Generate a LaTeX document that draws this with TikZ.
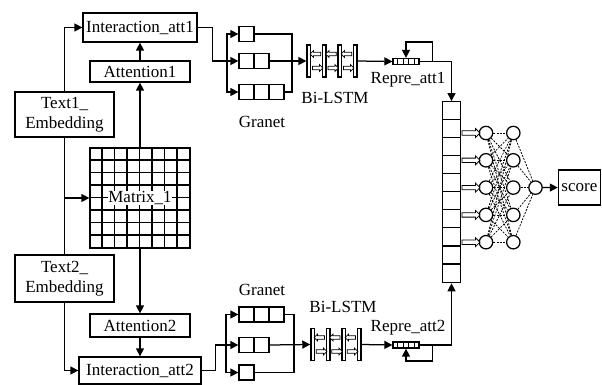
\documentclass[tikz,border=0pt]{standalone}
\usepackage{fontspec}
\setmainfont{Liberation Serif}
\usetikzlibrary{positioning,arrows.meta,calc,shapes.arrows}
\tikzset{
  blk/.style={draw,inner sep=1pt,align=center},
  cell/.style={draw,minimum size=15pt,inner sep=0pt},
  bar/.style={draw,fill=white,minimum width=3.6pt,minimum height=32pt,inner sep=0pt},
  vec/.style={draw,minimum width=26pt,minimum height=6pt,inner sep=0pt},
  neu/.style={circle,draw,minimum size=13.4pt,inner sep=0pt},
  arr/.style={-{Triangle[length=8pt,width=8pt]}},
  hol/.style={single arrow,draw,fill=white,line width=0.8pt,inner xsep=0pt,anchor=tail},
  lnk/.style={line width=0.75pt,dash pattern=on 2pt off 1.3pt},
}

\begin{document}
\begin{tikzpicture}[x=1pt,y=-1pt,line width=1.25pt,font=\fontsize{17}{20}\selectfont]
  \useasboundingbox (0,0) rectangle (602,385);
  \node[blk,minimum width=114pt,minimum height=29pt] (ia1) at (140,27.5) {Interaction\_att1};
  \node[blk,minimum width=100pt,minimum height=21pt] (at1) at (140,71.5) {Attention1};
  \node[blk,minimum width=99pt,minimum height=45pt] (te1) at (64.5,114.5) {Text1\_\\Embedding};
  \node[draw,minimum size=100pt,inner sep=0pt] (mat) at (140,198) {};
  \foreach \k in {1,...,7} {
    \draw (mat.north west) ++(12.5*\k,0) -- ++(0,100);
    \draw (mat.north west) ++(0,12.5*\k) -- ++(100,0);
  }
  \node[fill=white,inner sep=0.5pt] (matlab) at (mat) {Matrix\_1};
  \node[blk,minimum width=99pt,minimum height=47pt] (te2) at (64.5,278.5) {Text2\_\\Embedding};
  \node[blk,minimum width=100pt,minimum height=23pt] (at2) at (140,325.5) {Attention2};
  \node[blk,minimum width=122pt,minimum height=27pt] (ia2) at (140,370.5) {Interaction\_att2};

  \draw[arr] (te1.north) |- (ia1.west);
  \draw (te1.south) -- (te2.north);
  \draw[arr] (te1.south) |- (mat.west);
  \draw[arr] (te2.south) |- (ia2.west);
  \draw[arr] (mat.north) -- (at1.south);
  \draw[arr] (at1.north) -- (ia1.south);
  \draw[arr] (mat.south) -- (at2.north);
  \draw[arr] (at2.south) -- (ia2.north);

  % Granet
  \foreach \n/\y in {1/34,2/61,3/92}
    \foreach \k in {1,...,\n}
      \node[cell] (ga\n\k) at (231.5+15*\k,\y) {};
  \foreach \n/\y in {3/314.5,2/345,1/372.5}
    \foreach \k in {1,...,\n}
      \node[cell] (gb\n\k) at (231.5+15*\k,\y) {};
  \coordinate (sa) at (227,61);
  \coordinate (ea) at (292,61);
  \coordinate (sb) at (226,345);
  \coordinate (eb) at (294,345);
  \draw[arr] (ia1.east) -- ++(15,0) |- (ga21.west);
  \draw[arr] (sa) |- (ga11.west);
  \draw[arr] (sa) |- (ga31.west);
  \draw (ga11.east) -| (ea);
  \draw (ga33.east) -| (ea);
  \draw[arr] (ia2.east) -- ++(14,0) |- (gb21.west);
  \draw[arr] (sb) |- (gb31.west);
  \draw[arr] (sb) |- (gb11.west);
  \draw (gb33.east) -| (eb);
  \draw (gb11.east) -| (eb);
  \node at (262,122) {Granet};
  \node at (262,290) {Granet};

  % Bi-LSTM
  \foreach \i in {1,...,4} {
    \node[bar] (la\i) at (308.8+15.5*\i-15.5,61) {};
    \node[bar] (lb\i) at (312.7+15.5*\i-15.5,344.5) {};
  }
  \tikzset{sml/.style={hol,minimum height=10.5pt,inner ysep=1.4pt,single arrow head extend=1.6pt}}
  \foreach \i/\j in {1/2,2/3,3/4} {
    \node[sml,shape border rotate=180] at ($(la\j.west)+(-0.8,-7)$) {};
    \node[sml] at ($(la\i.east)+(0.8,7)$) {};
    \node[sml,shape border rotate=180] at ($(lb\j.west)+(-0.8,-7)$) {};
    \node[sml] at ($(lb\i.east)+(0.8,7)$) {};
  }
  \draw[arr] (ga22.east) -- (la1.west);
  \draw[arr] (gb22.east) -- (lb1.west);
  \node at (335,98) {Bi-LSTM};
  \node at (343,306.5) {Bi-LSTM};

  % representations
  \node[vec] (rp1) at (406,61.5) {};
  \node[vec] (rp2) at (406,345) {};
  \foreach \k in {1,...,4} {
    \draw[line width=0.8pt] ($(rp1.north west)!\k/5!(rp1.north east)$) -- ($(rp1.south west)!\k/5!(rp1.south east)$);
    \draw[line width=0.8pt] ($(rp2.north west)!\k/5!(rp2.north east)$) -- ($(rp2.south west)!\k/5!(rp2.south east)$);
  }
  \draw[arr] (la4.east) -- (rp1.west);
  \draw[arr] (lb4.east) -- (rp2.west);
  \draw[arr] (rp1.east) -- ++(12.5,0) -- ++(0,-19.5) -| (rp1.north);
  \draw[arr] (rp2.east) -- ++(12.5,0) -- ++(0,16) -| (rp2.south);
  \node at (408,79.5) {Repre\_att1};
  \node at (408,328) {Repre\_att2};

  % concatenation and MLP
  \node[draw,minimum width=17.3pt,minimum height=181pt,inner sep=0pt] (col) at (451.5,192.2) {};
  \foreach \k in {1,...,9}
    \draw (col.north west) ++(0,18.1*\k) -- ++(17.3,0);
  \draw[arr] (rp1.east) -| (col.north);
  \draw[arr] (rp2.east) -| (col.south);
  \foreach \i/\y in {1/133,2/160.3,3/187.6,4/214.9,5/242.2} {
    \node[neu] (na\i) at (486,\y) {};
    \node[neu] (nb\i) at (513.3,\y) {};
    \node[hol,minimum height=18pt,inner ysep=1.8pt,single arrow head extend=2.2pt] at ($(col.east |- na\i)+(0.8,0)$) {};
  }
  \node[neu] (out) at (535.5,187.6) {};
  \foreach \i in {1,...,5} {
    \foreach \j in {1,...,5}
      \draw[lnk] (na\i) -- (nb\j);
    \draw[lnk] (nb\i) -- (out);
  }
  \node[blk,minimum width=42pt,minimum height=35pt] (score) at (579.4,187.5) {score};
  \draw[arr] (out) -- (score);
\end{tikzpicture}
\end{document}
